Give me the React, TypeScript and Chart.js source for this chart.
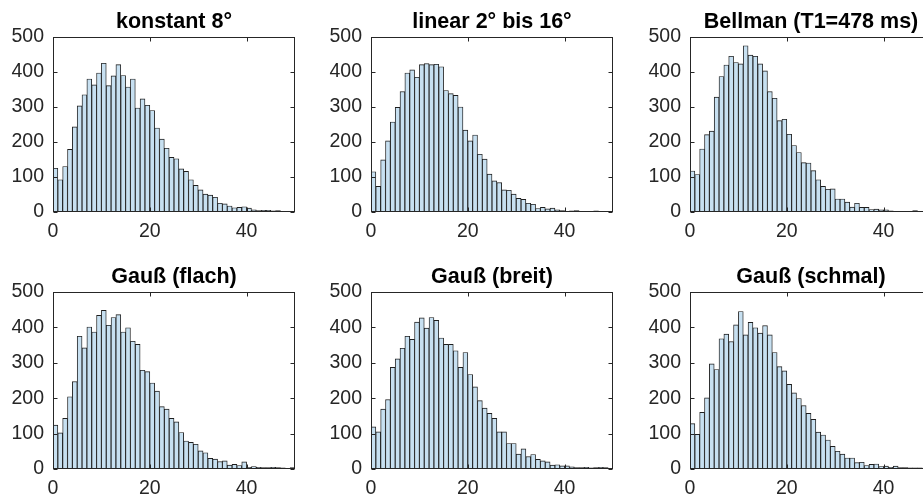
import React, { useEffect, useRef } from "react";
import { Chart, registerables } from "chart.js";

Chart.register(...registerables);

// ---- data (counts per 1-unit bin, bins 0..49) ----
const konstant = [125, 92, 130, 179, 243, 303, 335, 380, 363, 397, 425, 361, 389, 421, 390, 357, 380, 297, 323, 305, 290, 240, 208, 182, 156, 152, 123, 116, 92, 76, 63, 51, 48, 42, 25, 23, 17, 12, 13, 15, 11, 6, 4, 5, 5, 3, 4, 1, 0, 0];
const linear = [115, 73, 149, 203, 257, 299, 344, 397, 406, 385, 421, 424, 421, 422, 415, 347, 338, 333, 300, 234, 203, 220, 165, 151, 108, 89, 84, 63, 62, 51, 39, 36, 25, 22, 10, 13, 9, 11, 6, 4, 2, 3, 4, 2, 2, 1, 3, 1, 1, 1];
const bellman = [117, 107, 180, 221, 231, 328, 387, 420, 445, 427, 423, 475, 448, 445, 423, 403, 344, 325, 261, 265, 222, 190, 170, 141, 140, 118, 92, 73, 65, 66, 37, 37, 28, 14, 25, 13, 13, 7, 8, 6, 6, 3, 1, 1, 1, 1, 4, 0, 0, 0];
const gaussFlach = [124, 102, 143, 204, 247, 375, 342, 401, 387, 434, 448, 406, 428, 436, 387, 399, 361, 352, 279, 275, 243, 220, 176, 169, 143, 133, 103, 79, 75, 70, 51, 46, 30, 28, 21, 23, 11, 13, 10, 20, 5, 7, 5, 4, 4, 5, 4, 3, 2, 4];
const gaussBreit = [119, 105, 169, 196, 287, 311, 341, 375, 366, 415, 427, 398, 428, 420, 370, 352, 352, 334, 287, 329, 267, 232, 193, 172, 157, 143, 105, 105, 72, 72, 42, 57, 35, 41, 27, 23, 20, 11, 12, 9, 9, 6, 4, 4, 5, 3, 4, 5, 4, 1];
const gaussSchmal = [128, 98, 160, 201, 297, 281, 368, 381, 360, 407, 445, 379, 414, 399, 384, 405, 379, 329, 289, 277, 239, 215, 199, 179, 157, 140, 104, 96, 82, 64, 50, 42, 31, 31, 18, 19, 10, 13, 14, 7, 8, 5, 8, 4, 4, 3, 3, 3, 0, 0];

const titles = ["konstant 8°", "linear 2° bis 16°", "Bellman (T1=478 ms)", "Gauß (flach)", "Gauß (breit)", "Gauß (schmal)"];
const series = [konstant, linear, bellman, gaussFlach, gaussBreit, gaussSchmal];
const xTicks = [0, 20, 40];
const yTicks = [0, 100, 200, 300, 400, 500];
const xMin = 0;
const xMax = 50;
const yMin = 0;
const yMax = 500;

// ---- layout ----
const colLefts = [53, 371, 690];
const rowTops = [37, 292];
const rowHeights = [175, 177];
const plotW = 242;
const padL = 56;
const padT = 42;
const padR = 6;
const padB = 34;

const FONT = "'Liberation Sans', Arial, Helvetica, sans-serif";
const TEXT = "#262626";

const framePlugin = {
  id: "matlabFrame",
  afterDraw(chart: any) {
    const ctx = chart.ctx;
    const { left, top, right, bottom } = chart.chartArea;
    const xs = chart.scales.x;
    const ys = chart.scales.y;
    ctx.save();
    ctx.strokeStyle = TEXT;
    ctx.lineWidth = 1;
    const L = Math.round(left) + 0.5;
    const R = Math.round(right) - 0.5;
    const T = Math.round(top) + 0.5;
    const B = Math.round(bottom) - 0.5;
    ctx.strokeRect(L, T, R - L, B - T);
    ctx.beginPath();
    const tl = 4;
    for (const v of xTicks) {
      const px = Math.round(xs.getPixelForValue(v)) + 0.5;
      ctx.moveTo(px, B);
      ctx.lineTo(px, B - tl);
      ctx.moveTo(px, T);
      ctx.lineTo(px, T + tl);
    }
    for (const v of yTicks) {
      const py = Math.round(ys.getPixelForValue(v)) + 0.5;
      ctx.moveTo(L, py);
      ctx.lineTo(L + tl, py);
      ctx.moveTo(R, py);
      ctx.lineTo(R - tl, py);
    }
    ctx.stroke();
    const title = chart.options.plugins.matlabFrame.title;
    ctx.fillStyle = "#000";
    ctx.font = `bold 21.5px ${FONT}`;
    ctx.textAlign = "center";
    ctx.textBaseline = "alphabetic";
    ctx.fillText(title, (left + right) / 2, top - 9);
    ctx.restore();
  },
};

function Panel({ idx }: { idx: number }) {
  const ref = useRef<HTMLCanvasElement | null>(null);
  const col = idx % 3;
  const row = Math.floor(idx / 3);
  const plotH = rowHeights[row];
  const cw = padL + plotW + padR;
  const ch = padT + plotH + padB;
  useEffect(() => {
    const values = series[idx];
    const data = values.map((v, i) => ({ x: xMin + i + 0.5, y: v }));
    const chart = new Chart(ref.current as HTMLCanvasElement, {
      type: "bar",
      data: {
        datasets: [
          {
            data: data as any,
            backgroundColor: "#c7e0f1",
            borderColor: "#1e1e1e",
            borderWidth: 0.9,
            borderSkipped: false,
            barPercentage: 1,
            categoryPercentage: 1,
          } as any,
        ],
      },
      options: {
        responsive: false,
        animation: false,
        devicePixelRatio: 1,
        layout: { padding: { left: 0, top: padT, right: padR, bottom: 0 } },
        plugins: {
          legend: { display: false },
          tooltip: { enabled: false },
          matlabFrame: { title: titles[idx] },
        } as any,
        scales: {
          x: {
            type: "linear",
            min: xMin,
            max: xMax,
            offset: false,
            grid: { display: false, drawTicks: false },
            border: { display: false },
            afterBuildTicks: (s: any) => {
              s.ticks = xTicks.map((v) => ({ value: v }));
            },
            afterFit: (s: any) => {
              s.height = padB;
            },
            ticks: {
              color: TEXT,
              font: { family: FONT, size: 19.5 },
              padding: 8,
              maxRotation: 0,
              autoSkip: false,
            },
          },
          y: {
            type: "linear",
            min: yMin,
            max: yMax,
            grid: { display: false, drawTicks: false },
            border: { display: false },
            afterBuildTicks: (s: any) => {
              s.ticks = yTicks.map((v) => ({ value: v }));
            },
            afterFit: (s: any) => {
              s.width = padL;
            },
            ticks: {
              color: TEXT,
              font: { family: FONT, size: 19.5 },
              padding: 9,
              autoSkip: false,
            },
          },
        },
      } as any,
      plugins: [framePlugin],
    });
    return () => chart.destroy();
  }, [idx]);
  return (
    <canvas
      ref={ref}
      width={cw}
      height={ch}
      style={{
        position: "absolute",
        left: colLefts[col] - padL,
        top: rowTops[row] - padT,
        width: cw,
        height: ch,
      }}
    />
  );
}

export default function App() {
  return (
    <div
      style={{
        position: "fixed",
        left: 0,
        top: 0,
        width: 923,
        height: 497,
        overflow: "hidden",
        background: "#fff",
      }}
    >
      {series.map((_, i) => (
        <Panel key={i} idx={i} />
      ))}
    </div>
  );
}
